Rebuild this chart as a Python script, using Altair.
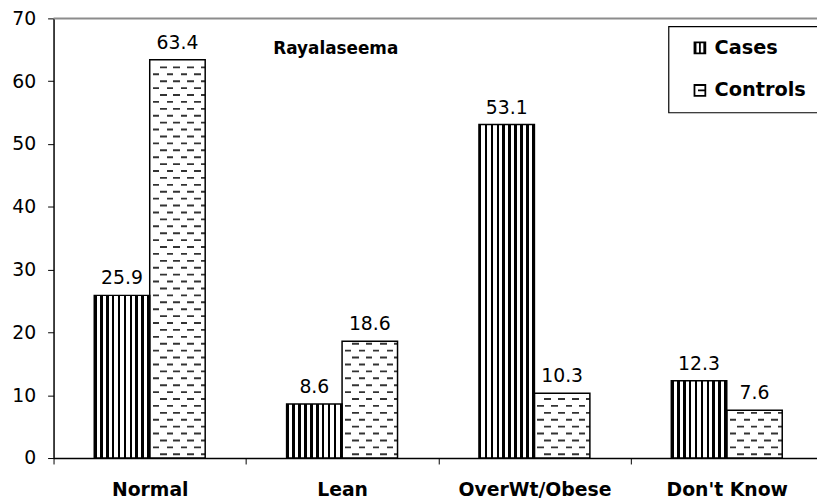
import altair as alt
import pandas as pd

CATEGORIES = ["Normal", "Lean", "OverWt/Obese", "Don't Know"]
SERIES = ["Cases", "Controls"]
CASES = [25.9, 8.6, 53.1, 12.3]
CONTROLS = [63.4, 18.6, 10.3, 7.6]
TITLE = "Rayalaseema"
Y_TICKS = [0, 10, 20, 30, 40, 50, 60, 70]
Y_MAX = 70

FONT = "DejaVu Sans"

rows = []
for c, a, b in zip(CATEGORIES, CASES, CONTROLS):
    rows.append({"cat": c, "series": "Cases", "value": a})
    rows.append({"cat": c, "series": "Controls", "value": b})
df = pd.DataFrame(rows)

# texture rows (horizontal dashes) for the Controls bars, derived from values
ROW_STEP = 1.1
ROW_H = 0.3
dash_rows = []
for c, v in zip(CATEGORIES, CONTROLS):
    k = 0
    while k * ROW_STEP + 0.45 + ROW_H < v - 0.15:
        y0 = k * ROW_STEP + 0.45
        dash_rows.append({"cat": c, "series": "Controls", "y0": y0, "y1": y0 + ROW_H,
                          "phase": "A" if k % 2 == 0 else "B"})
        k += 1
dash_df = pd.DataFrame(dash_rows)


def hard_stops(segments, on, off):
    stops = []
    pos = 0.0
    for a, b in segments:
        stops += [alt.GradientStop(offset=pos, color=off), alt.GradientStop(offset=a, color=off),
                  alt.GradientStop(offset=a, color=on), alt.GradientStop(offset=b, color=on)]
        pos = b
    stops += [alt.GradientStop(offset=pos, color=off), alt.GradientStop(offset=1, color=off)]
    return stops


# vertical stripes for Cases
n = 9
frac = 0.43
p = 1 / (n + frac)
segs = [(i * p, i * p + frac * p) for i in range(n)] + [(n * p, 1.0)]
CASE_GRAD = alt.LinearGradient(gradient="linear", x1=0, y1=0, x2=1, y2=0,
                               stops=hard_stops(segs, "black", "white"))
W = 56.0
segA = [(10 / W, 17 / W), (24 / W, 30.5 / W), (38 / W, 45 / W), (52 / W, 1.0)]
segB = [(3 / W, 9.5 / W), (17 / W, 23.5 / W), (31.5 / W, 37.5 / W), (45 / W, 51.5 / W)]
GRAD_A = alt.LinearGradient(gradient="linear", x1=0, y1=0, x2=1, y2=0,
                            stops=hard_stops(segA, "#333333", "white"))
GRAD_B = alt.LinearGradient(gradient="linear", x1=0, y1=0, x2=1, y2=0,
                            stops=hard_stops(segB, "#333333", "white"))

x_enc = alt.X("cat:N", sort=CATEGORIES,
              scale=alt.Scale(domain=CATEGORIES, range=[0, 777], paddingInner=0, paddingOuter=0),
              axis=alt.Axis(title=None, tickBand="extent", labelAngle=0, labelFont=FONT,
                            labelFontSize=19, labelFontWeight="bold", labelColor="black",
                            tickColor="black", tickSize=6, domainColor="black", domainWidth=1.5,
                            labelPadding=17))
xo_enc = alt.XOffset("series:N", sort=SERIES,
                     scale=alt.Scale(domain=SERIES, paddingInner=0, paddingOuter=0.734))
y_scale = alt.Scale(domain=[0, Y_MAX], nice=False)
y_enc = alt.Y("value:Q", scale=y_scale,
              axis=alt.Axis(title=None, values=Y_TICKS, grid=False, labelFont=FONT,
                            labelFontSize=19, labelColor="black", tickColor="black",
                            tickSize=6, domainColor="black", domainWidth=1.5, labelPadding=12))

base = alt.Chart(df).encode(x=x_enc, xOffset=xo_enc, y=y_enc)

top_line = alt.Chart(pd.DataFrame({"v": [Y_MAX]})).mark_rule(
    color="#8c8c8c", strokeWidth=2).encode(y=alt.Y("v:Q", scale=y_scale))

cases_fill = base.transform_filter(alt.datum.series == "Cases").mark_bar(
    fill=CASE_GRAD, strokeWidth=0)
controls_fill = base.transform_filter(alt.datum.series == "Controls").mark_bar(
    fill="white", strokeWidth=0)

dash_base = alt.Chart(dash_df).encode(
    x=x_enc, xOffset=xo_enc, y=alt.Y("y0:Q", scale=y_scale), y2="y1:Q")
dash_a = dash_base.transform_filter(alt.datum.phase == "A").mark_bar(fill=GRAD_A, strokeWidth=0)
dash_b = dash_base.transform_filter(alt.datum.phase == "B").mark_bar(fill=GRAD_B, strokeWidth=0)

outline = base.mark_bar(fillOpacity=0, stroke="black", strokeWidth=1.5)

labels = base.mark_text(dy=-11, baseline="alphabetic", font=FONT, fontSize=19,
                        color="black").encode(text=alt.Text("value:Q", format=".1f"))

PATH_CASES = "M-1,-1H1V1H-1Z M-0.8,-1V1 M0,-1V1 M0.8,-1V1"
PATH_CONTROLS = "M-1,-1H1V1H-1Z M-0.35,0H1"
legend_pts = base.mark_point(opacity=0, filled=False, color="black").encode(
    shape=alt.Shape("series:N", sort=SERIES,
                    scale=alt.Scale(domain=SERIES, range=[PATH_CASES, PATH_CONTROLS]),
                    legend=alt.Legend(title=None, orient="none", legendX=621, legendY=8,
                                      strokeColor="black", fillColor="white", padding=12,
                                      symbolOffset=10, rowPadding=22, labelOffset=5,
                                      symbolSize=120, symbolStrokeColor="black",
                                      symbolStrokeWidth=1.8, symbolFillColor="white",
                                      labelFont=FONT, labelFontSize=19.5, labelFontWeight="bold",
                                      labelColor="black",
                                      labelExpr="datum.label + '\u00a0'")))

title = alt.Chart(pd.DataFrame({"t": [TITLE]})).mark_text(
    font=FONT, fontSize=17, fontWeight="bold", color="black", align="center",
    baseline="middle").encode(x=alt.value(285), y=alt.value(31), text="t:N")

chart = alt.layer(top_line, cases_fill, controls_fill, dash_a, dash_b, outline, labels,
                  legend_pts, title).properties(
    width=771, height=444,
    autosize=alt.AutoSizeParams(type="none"),
    padding={"left": 46, "top": 8, "right": 0, "bottom": 52},
).configure_view(stroke=None).configure_legend(strokeWidth=1.2)

chart.save("out.html", embed_options={"renderer": "svg", "actions": False})
